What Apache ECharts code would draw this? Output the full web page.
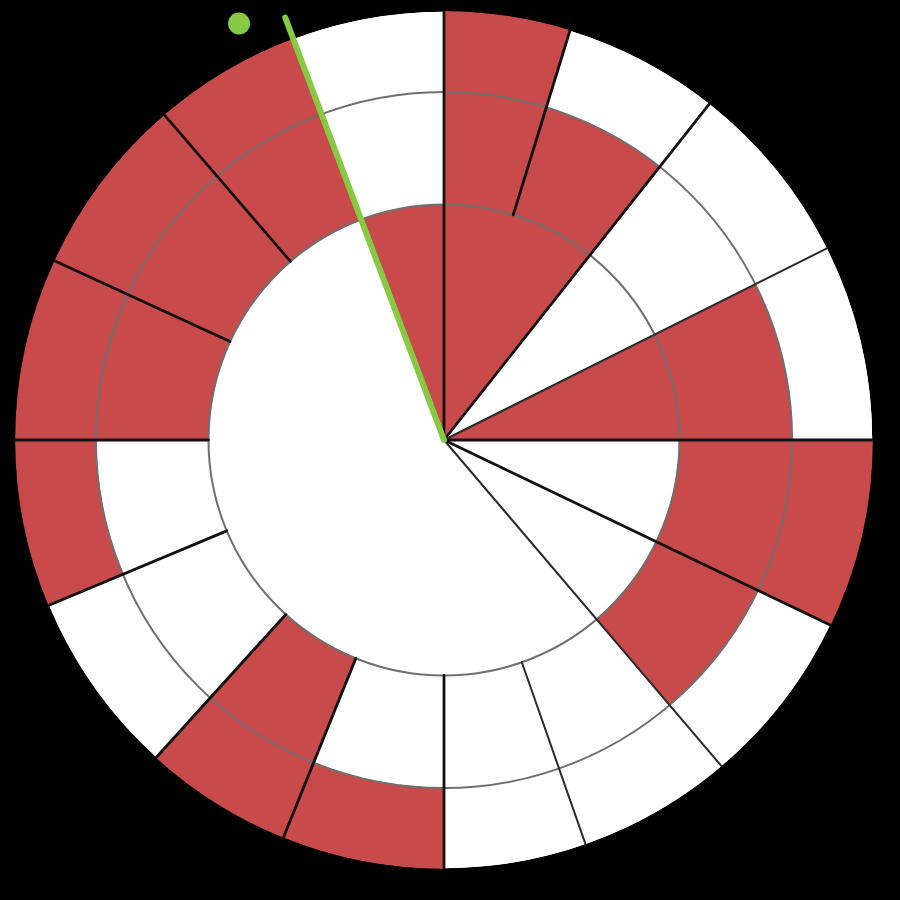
<!DOCTYPE html>
<html>
<head>
<meta charset="utf-8">
<script src="https://cdn.jsdelivr.net/npm/echarts@6/dist/echarts.min.js"></script>
<style>
  html, body { margin: 0; padding: 0; background: #000; }
  #chart { width: 900px; height: 900px; }
</style>
</head>
<body>
<div id="chart"></div>
<script>
// Sector boundary angles (degrees, counter-clockwise from 3 o'clock)
const sectorEdges = [0, 26.6, 51.7, 72.9, 90, 110.6, 130.7, 155.3, 180, 202.7, 227.8, 248, 270, 289.3, 310.4, 334.4, 360];
// Ring boundaries on the radius axis
const ringEdges = [0, 5.5, 8.13, 10];
// Cell state per sector (1 = red, 0 = white)
const innerRing  = [1, 0, 1, 1, 1, 0, 0, 0, 0, 0, 0, 0, 0, 0, 0, 0];
const middleRing = [1, 0, 1, 1, 0, 1, 1, 1, 0, 0, 1, 0, 0, 0, 1, 1];
const outerRing  = [0, 0, 0, 1, 0, 1, 1, 1, 1, 0, 1, 1, 0, 0, 0, 1];
// Spokes: 1 = drawn from the centre, 0 = drawn from the inner ring edge, -1 = none (needle)
const spokeFromCentre = [1, 1, 1, 0, 1, -1, 0, 0, 0, 0, 0, 0, 0, 0, 1, 1];
// Needle and marker
const needle = { angle: 110.6, length: 10.54 };
const marker = { angle: 116.2, radius: 10.84 };

const RED = '#c84a4a', WHITE = '#ffffff', GREEN = '#86c943';
const rings = [innerRing, middleRing, outerRing];

const cells = [];
for (let s = 0; s < sectorEdges.length - 1; s++) {
  for (let k = 0; k < 3; k++) {
    cells.push([sectorEdges[s], sectorEdges[s + 1], ringEdges[k], ringEdges[k + 1], rings[k][s]]);
  }
}
const spokes = [];
for (let s = 0; s < sectorEdges.length - 1; s++) {
  if (spokeFromCentre[s] < 0) continue;
  spokes.push([sectorEdges[s], spokeFromCentre[s] ? 0 : ringEdges[1], ringEdges[3], s]);
}
const ringLines = [[ringEdges[1], 0], [ringEdges[2], 0]];
const baseDisc = [[ringEdges[3], 0]];

function polarInfo(api, r, a) {
  const c = api.coord([0, 0]);
  const p = api.coord([r, a]);
  return { c: c, r: Math.hypot(p[0] - c[0], p[1] - c[1]), ang: Math.atan2(p[1] - c[1], p[0] - c[0]) };
}

function renderCell(params, api) {
  const a0 = api.value(0), a1 = api.value(1), r0 = api.value(2), r1 = api.value(3), on = api.value(4);
  const A = polarInfo(api, r1, a0), B = polarInfo(api, r1, a1), I = polarInfo(api, r0, a0);
  let s = A.ang, d = B.ang - A.ang;
  while (d <= -Math.PI) d += 2 * Math.PI;
  while (d > Math.PI) d -= 2 * Math.PI;
  if (d < 0) { s = B.ang; d = -d; }
  const col = on ? RED : WHITE;
  return {
    type: 'sector',
    shape: { cx: A.c[0], cy: A.c[1], r0: I.r, r: A.r, startAngle: s, endAngle: s + d, clockwise: true },
    style: { fill: col, stroke: col, lineWidth: on ? 1.2 : 0 }
  };
}

function renderDisc(params, api) {
  const P = polarInfo(api, api.value(0), 0);
  return {
    type: 'circle',
    shape: { cx: P.c[0], cy: P.c[1], r: P.r },
    style: { fill: WHITE, stroke: null }
  };
}

function renderRing(params, api) {
  const P = polarInfo(api, api.value(0), 0);
  return {
    type: 'circle',
    shape: { cx: P.c[0], cy: P.c[1], r: P.r },
    style: { fill: 'none', stroke: '#6f6f6f', lineWidth: 2 }
  };
}

function renderSpoke(params, api) {
  const a = api.value(0), r0 = api.value(1), r1 = api.value(2), idx = api.value(3);
  const p0 = api.coord([r0, a]), p1 = api.coord([r1, a]);
  const light = (idx === 1 || idx === 13 || idx === 14);
  return {
    type: 'line',
    shape: { x1: p0[0], y1: p0[1], x2: p1[0], y2: p1[1] },
    style: { stroke: light ? '#2a2a2a' : '#111111', lineWidth: light ? 2 : 2.8, lineCap: 'round' }
  };
}

const chart = echarts.init(document.getElementById('chart'), null, { renderer: 'canvas' });
chart.setOption({
  backgroundColor: '#000000',
  animation: false,
  polar: { center: [444, 440], radius: 471 },
  angleAxis: {
    type: 'value', min: 0, max: 360, startAngle: 0, clockwise: false,
    axisLine: { show: false }, axisTick: { show: false }, axisLabel: { show: false }, splitLine: { show: false }
  },
  radiusAxis: {
    type: 'value', min: 0, max: 11,
    axisLine: { show: false }, axisTick: { show: false }, axisLabel: { show: false }, splitLine: { show: false }
  },
  series: [
    { type: 'custom', coordinateSystem: 'polar', data: baseDisc, encode: { radius: 0, angle: 1 }, renderItem: renderDisc, z: 0, silent: true },
    { type: 'custom', coordinateSystem: 'polar', data: cells, encode: { radius: 3, angle: 0 }, renderItem: renderCell, z: 1, silent: true },
    { type: 'custom', coordinateSystem: 'polar', data: ringLines, encode: { radius: 0, angle: 1 }, renderItem: renderRing, z: 2, silent: true },
    { type: 'custom', coordinateSystem: 'polar', data: spokes, encode: { radius: 2, angle: 0 }, renderItem: renderSpoke, z: 3, silent: true },
    {
      type: 'line', coordinateSystem: 'polar', z: 4, silent: true, symbol: 'none',
      data: [[0, needle.angle], [needle.length, needle.angle]],
      lineStyle: { color: GREEN, width: 6, cap: 'round', opacity: 1 }
    },
    {
      type: 'scatter', coordinateSystem: 'polar', z: 5, silent: true,
      data: [[marker.radius, marker.angle]], symbolSize: 22,
      itemStyle: { color: GREEN, opacity: 1 }
    }
  ]
});
</script>
</body>
</html>
